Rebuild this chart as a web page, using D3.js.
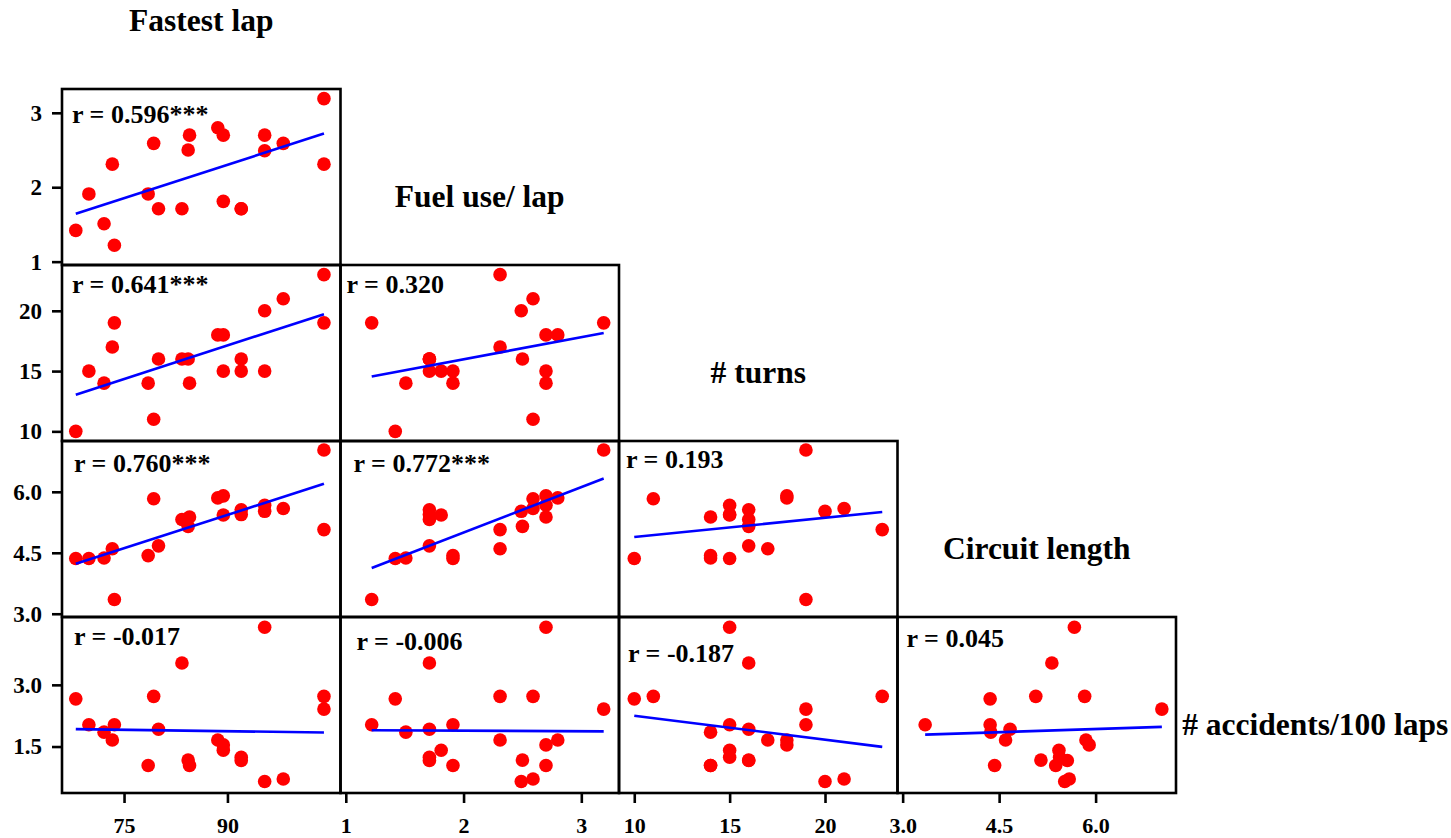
<!DOCTYPE html>
<html>
<head>
<meta charset="utf-8">
<script src="https://cdn.jsdelivr.net/npm/d3@7"></script>
<style>
  body { margin: 0; background: #fff; }
  text { font-family: "Liberation Serif", "Times New Roman", serif; font-weight: bold; fill: #000; }
</style>
</head>
<body>
<script>
var width = 1451,
    height = 838

// variable names, in matrix order
var names = ['Fastest lap', 'Fuel use/ lap', '# turns', 'Circuit length', '# accidents/100 laps']

// one value per circuit (21 circuits)
var fastestLap    = [68.0, 69.9, 72.1, 73.3, 73.6, 78.5, 79.3, 80.0, 83.4, 84.3, 84.5, 88.6, 89.4, 89.4, 92.0, 92.0, 95.4, 95.4, 98.1, 104.0, 104.0]
var fuelUse       = [1.42, 1.91, 1.51, 2.31, 1.22, 1.91, 2.59, 1.71, 1.71, 2.50, 2.70, 2.80, 2.70, 1.81, 1.71, 1.71, 2.70, 2.49, 2.59, 3.19, 2.31]
var turns         = [10, 15, 14, 17, 19, 14, 11, 16, 16, 16, 14, 18, 18, 15, 16, 15, 15, 20, 21, 19, 23]
var circuitLength = [4.36, 4.36, 4.37, 4.60, 3.35, 4.43, 5.83, 4.67, 5.32, 5.15, 5.38, 5.85, 5.90, 5.43, 5.56, 5.44, 5.67, 5.52, 5.59, 7.03, 5.07]
var accidents     = [2.66, 2.03, 1.85, 1.66, 2.03, 1.04, 2.72, 1.92, 3.53, 1.17, 1.04, 1.66, 1.54, 1.41, 1.16, 1.24, 4.40, 0.65, 0.71, 2.41, 2.72]

var columns = [fastestLap, fuelUse, turns, circuitLength, accidents]

// correlation labels, panel by panel (row by row, left to right)
var rValues = [0.596, 0.641, 0.320, 0.760, 0.772, 0.193, -0.017, -0.006, -0.187, 0.045]
var rStars  = ['***', '***', '', '***', '***', '', '', '', '', '']

// axis ticks per variable
var tickValues  = [[75, 90], [1, 2, 3], [10, 15, 20], [3.0, 4.5, 6.0], [1.5, 3.0]]
var tickFormats = ['d', 'd', 'd', '.1f', '.1f']
var domains     = [[66, 106.4], [0.955, 3.32], [9.2, 23.8], [2.92, 7.25], [0.37, 4.65]]

// layout
var padLeft = 62, padTop = 89 - 176,
    pw = 278.5, ph = 176

// where each r label sits inside its panel [dx, baseline dy]
var labelOffsets = [[10, 34], [10, 28], [6, 28], [12, 31], [13, 31], [7, 27], [12, 28], [16, 33], [9, 45], [9, 30]]

var svg = d3.select('body').append('svg')
    .attr('width', width)
    .attr('height', height)

function xScale(j) {
  return d3.scaleLinear().domain(domains[j]).range([padLeft + j * pw, padLeft + (j + 1) * pw])
}
function yScale(i) {
  return d3.scaleLinear().domain(domains[i]).range([padTop + (i + 1) * ph, padTop + i * ph])
}

function fit(xs, ys) {
  var mx = d3.mean(xs), my = d3.mean(ys), sxy = 0, sxx = 0
  xs.forEach(function(x, k) { sxy += (x - mx) * (ys[k] - my); sxx += (x - mx) * (x - mx) })
  var b = sxy / sxx
  return {b: b, a: my - b * mx}
}

var k = 0
for (var i = 1; i < names.length; i++) {
  for (var j = 0; j < i; j++) {
    var x = xScale(j), y = yScale(i)
    var xs = columns[j], ys = columns[i]
    var g = svg.append('g')

    var pts = xs.map(function(d, n) { return [d, ys[n]] })

    g.selectAll('circle').data(pts).enter().append('circle')
        .attr('cx', function(d) { return x(d[0]) })
        .attr('cy', function(d) { return y(d[1]) })
        .attr('r', 6.8)
        .attr('fill', '#ff0000')

    var f = fit(xs, ys), x0 = d3.min(xs), x1 = d3.max(xs)
    g.append('line')
        .attr('x1', x(x0)).attr('y1', y(f.a + f.b * x0))
        .attr('x2', x(x1)).attr('y2', y(f.a + f.b * x1))
        .attr('stroke', '#0000ff')
        .attr('stroke-width', 2.6)

    g.append('rect')
        .attr('x', padLeft + j * pw).attr('y', padTop + i * ph)
        .attr('width', pw).attr('height', ph)
        .attr('fill', 'none')
        .attr('stroke', '#000')
        .attr('stroke-width', 2.6)

    var r = rValues[k]
    g.append('text')
        .attr('x', padLeft + j * pw + labelOffsets[k][0])
        .attr('y', padTop + i * ph + labelOffsets[k][1])
        .style('font-size', '26px')
        .text('r = ' + (r < 0 ? '-' : '') + d3.format('.3f')(Math.abs(r)) + rStars[k])
    k++
  }
}

// y axes on the left, one per row
for (var i = 1; i < names.length; i++) {
  var ax = svg.append('g')
      .attr('transform', 'translate(' + padLeft + ',0)')
      .call(d3.axisLeft(yScale(i)).tickValues(tickValues[i]).tickFormat(d3.format(tickFormats[i])).tickSize(10).tickPadding(10))
  ax.select('.domain').remove()
  ax.selectAll('line').attr('stroke', '#000').attr('stroke-width', 2.6)
  ax.selectAll('text').style('font-size', '23px').attr('fill', '#000')
}

// x axes along the bottom, one per column
var bottom = padTop + names.length * ph
for (var j = 0; j < names.length - 1; j++) {
  var ax = svg.append('g')
      .attr('transform', 'translate(0,' + bottom + ')')
      .call(d3.axisBottom(xScale(j)).tickValues(tickValues[j]).tickFormat(d3.format(tickFormats[j])).tickSize(10).tickPadding(14))
  ax.select('.domain').remove()
  ax.selectAll('line').attr('stroke', '#000').attr('stroke-width', 2.6)
  ax.selectAll('text').style('font-size', '22px').attr('fill', '#000')
}

// variable names on the diagonal
svg.selectAll('text.name').data(names).enter().append('text')
    .attr('class', 'name')
    .attr('x', function(d, i) { return padLeft + (i + 0.5) * pw })
    .attr('y', function(d, i) { return padTop + (i + 0.5) * ph + 30 })
    .attr('text-anchor', 'middle')
    .style('font-size', '31.5px')
    .text(function(d) { return d })
</script>
</body>
</html>
